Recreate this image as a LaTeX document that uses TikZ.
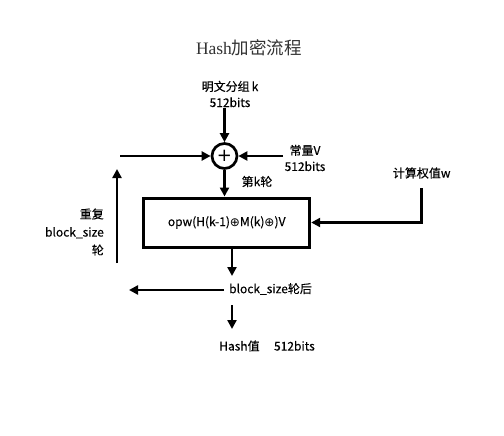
\documentclass[tikz,border=0pt]{standalone}
\usepackage{fontspec}
\setmainfont{Noto Sans CJK SC}
\newfontfamily\cjk{Noto Sans CJK SC}[FakeBold=0.25]
\newfontfamily\serifL{Liberation Serif}
\newfontfamily\cjkT{Noto Sans CJK SC}
\newfontfamily\sym{DejaVu Sans}
\usetikzlibrary{arrows.meta}
\begin{document}
\begin{tikzpicture}[x=1pt,y=-1pt,
  lbl/.style={font=\cjk\fontsize{12}{16}\selectfont, text=black, inner sep=1pt, align=center},
  arr/.style={line width=2.7pt, -{Triangle[length=9pt,width=9pt]}},
  ln/.style={line width=2.7pt}]
\useasboundingbox (0,0) rectangle (504,436);
\fill[white] (0,0) rectangle (504,436);
% title
\node[font=\fontsize{17.5}{20}\selectfont, text=black!80] (title) at (249,48) {{\serifL Hash}{\cjkT 加密流程}};
% top input
\node[lbl] (plain) at (230,94) {明文分组\,k\\512bits};
\node[circle, draw, line width=2.7pt, minimum size=25pt, inner sep=0pt, font=\sym\fontsize{18}{18}\selectfont] (xor) at (224.5,156) {+};
\draw[arr] (plain.south -| xor) -- (xor.north);
% left input
\coordinate (lin) at (120,156);
\draw[arr] (lin) -- (xor.west);
% constant V
\node[lbl] (constV) at (305,158) {常量V\\512bits};
\coordinate (rin) at (283,156);
\draw[arr] (rin) -- (xor.east);
% round label
\node[lbl] (round) at (257,181.5) {第k轮};
% box
\node[draw, line width=3pt, minimum width=166pt, minimum height=49pt, inner sep=0pt, font=\cjk\fontsize{12}{14}\selectfont] (box) at (226.7,222.5) {opw(H(k-1){\sym ⊕}M(k){\sym ⊕})V};
\draw[arr] (xor.south) -- (box.north -| xor.south);
% weight
\node[lbl] (weight) at (421.7,173) {计算权值w};
\coordinate (w1) at (421.7,188);
\draw[arr] (w1) |- (box.east);
% repeat
\coordinate (rb) at (117,263);
\coordinate (rt) at (117,169);
\draw[arr] (rb) -- (rt);
\node[lbl, align=right, anchor=east] (rep) at (105,232) {重复\\[2pt]block\_size\\[2pt]轮};
% output
\coordinate (o1) at (232,276);
\draw[arr] (box.south -| o1) -- (o1);
\node[lbl, anchor=west] (after) at (228,289) {block\_size轮后};
\coordinate (lout) at (129,290);
\draw[arr] ([xshift=-4pt]after.west |- lout) -- (lout);
\coordinate (o2) at (232,305);
\coordinate (o3) at (232,329);
\draw[arr] (o2) -- (o3);
\node[lbl] (hash) at (267,346) {Hash值\hspace{1.2em}512bits};
\end{tikzpicture}
\end{document}
